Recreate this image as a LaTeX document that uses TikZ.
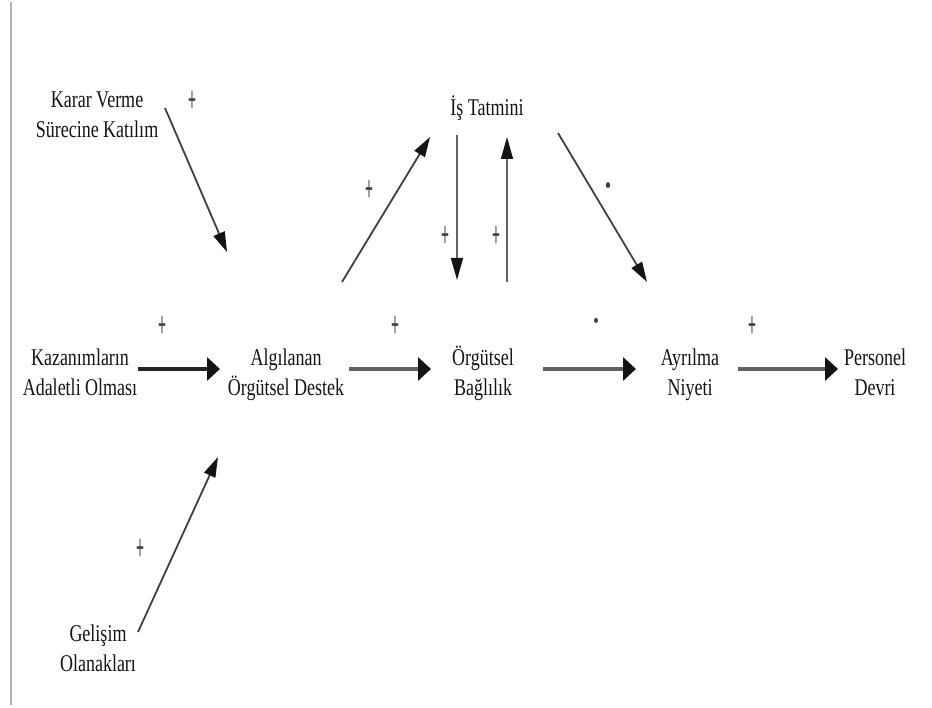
\documentclass[tikz,border=0pt]{standalone}
\usepackage{fontspec}
\setmainfont{Liberation Serif}[FakeStretch=0.75]
\usetikzlibrary{arrows.meta}

% uniform line box so that every node is centred on its lines' cap height
\newcommand\linestrut{\rule[-6pt]{0pt}{29pt}}
% sign marks on the relations
\newcommand\possign{\scalebox{0.62}[1.25]{\bfseries +}}
\newcommand\negsign{{\bfseries ·}}

\begin{document}
\begin{tikzpicture}[x=1pt, y=-1pt,
  concept/.style={inner sep=0pt, align=center, text=black!92,
    font=\fontsize{24}{30}\selectfont},
  sign/.style={inner sep=0pt, text=black!75, font=\fontsize{30}{30}\selectfont},
  mainlink/.style={line width=3.6pt, draw=black!62,
    -{Triangle[length=13pt, width=23pt, color=black!92]}},
  sidelink/.style={line width=1.8pt, draw=black!75,
    -{Triangle[length=20pt, width=12pt, color=black!92]}},
  looplink/.style={line width=1.6pt, draw=black!62,
    -{Triangle[length=22pt, width=12pt, color=black!92]}}
]
\useasboundingbox (0,0) rectangle (932,708);

% left margin rule
\draw[line width=2.6pt, black!30] (11,2) -- (11,705);

% concepts
\node[concept] (kar) at (97,114) {\linestrut Karar Verme\\\linestrut Sürecine Katılım};
\node[concept] (is)  at (487,107) {\linestrut İş Tatmini};
\node[concept] (kaz) at (80,372)  {\linestrut Kazanımların\\\linestrut Adaletli Olması};
\node[concept] (alg) at (286,372) {\linestrut Algılanan\\\linestrut Örgütsel Destek};
\node[concept] (org) at (483,372) {\linestrut Örgütsel\\\linestrut Bağlılık};
\node[concept] (ayr) at (690,372) {\linestrut Ayrılma\\\linestrut Niyeti};
\node[concept] (per) at (875,372) {\linestrut Personel\\\linestrut Devri};
\node[concept] (gel) at (98,648)  {\linestrut Gelişim\\\linestrut Olanakları};

% main chain
\draw[mainlink, draw=black!85] ([shift={(58,-3)}]kaz.center) -- ([shift={(-66,-3)}]alg.center);
\draw[mainlink] ([shift={(63,-3)}]alg.center) -- ([shift={(-52,-3)}]org.center);
\draw[mainlink] ([shift={(60,-3)}]org.center) -- ([shift={(-54,-3)}]ayr.center);
\draw[mainlink] ([shift={(48,-3)}]ayr.center) -- ([shift={(-37,-3)}]per.center);

% side influences on perceived support
\draw[sidelink] ([shift={(68,-6)}]kar.center) -- ([shift={(-59,-120)}]alg.center);
\draw[sidelink] ([shift={(40,-16)}]gel.center) -- ([shift={(-68,85)}]alg.center);

% job satisfaction loop
\draw[sidelink] ([shift={(56,-90)}]alg.center) -- ([shift={(-57,30)}]is.center);
\draw[looplink] ([shift={(-30,28)}]is.center) -- ([shift={(-26,-92)}]org.center);
\draw[looplink] ([shift={(24,-90)}]org.center) -- ([shift={(20,30)}]is.center);
\draw[sidelink] ([shift={(71,26)}]is.center) -- ([shift={(-43,-90)}]ayr.center);

% signs of the relations
\node[sign] (s1) at (192,102) {\possign};
\node[sign] (s2) at (140,550) {\possign};
\node[sign] (s3) at (369,191) {\possign};
\node[sign] (s4) at (445,237) {\possign};
\node[sign] (s5) at (496,237) {\possign};
\node[sign, font=\fontsize{36}{36}\selectfont] (s6) at (608,190) {\negsign};
\node[sign] (s7) at (162,327) {\possign};
\node[sign] (s8) at (395,327) {\possign};
\node[sign, font=\fontsize{32}{32}\selectfont] (s9) at (596,325) {\negsign};
\node[sign] (s10) at (752,327) {\possign};
\end{tikzpicture}
\end{document}
